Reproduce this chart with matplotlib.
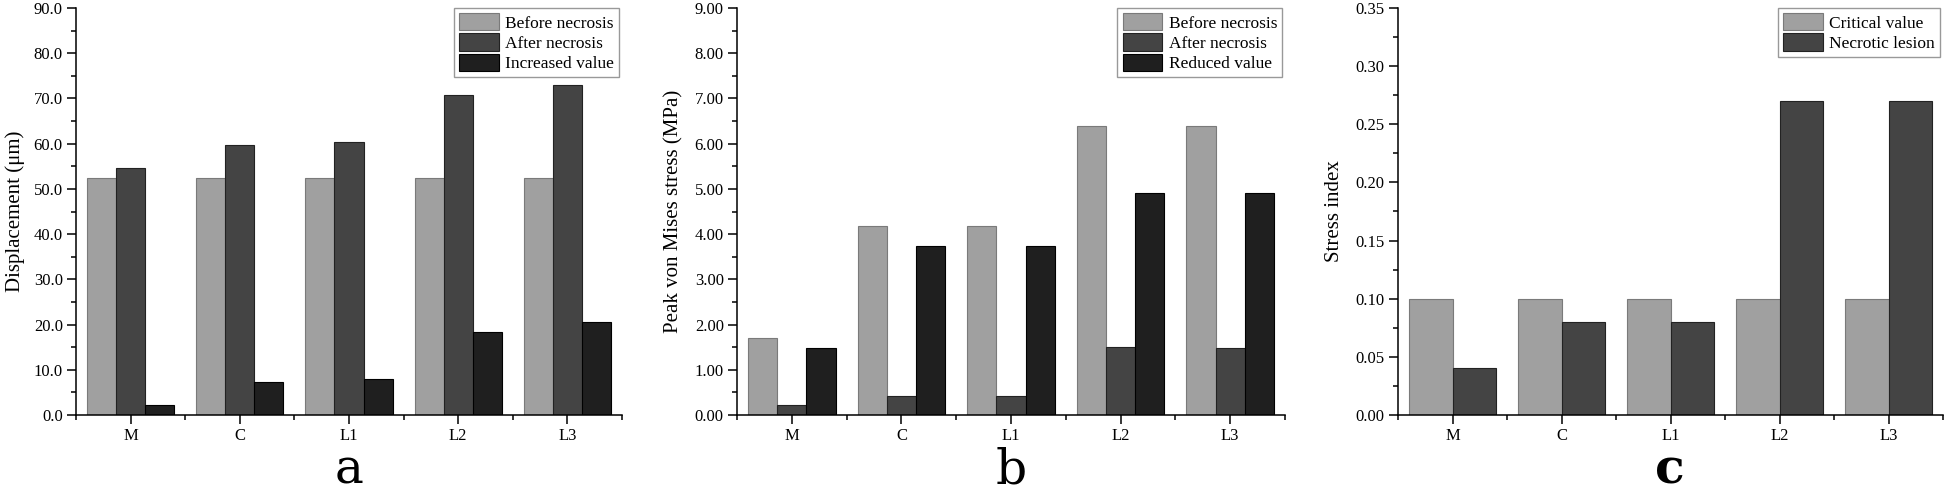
import numpy as np
import matplotlib
matplotlib.use("Agg")
import matplotlib.pyplot as plt
from matplotlib.ticker import MultipleLocator, FixedLocator, FormatStrFormatter

plt.rcParams['font.family'] = ['Liberation Serif', 'DejaVu Serif']

categories = ["M", "C", "L1", "L2", "L3"]

# Panel a: displacement (um)
disp_before = [52.4, 52.4, 52.4, 52.4, 52.4]
disp_after = [54.6, 59.6, 60.4, 70.8, 72.9]
disp_increase = [2.2, 7.2, 8.0, 18.4, 20.5]

# Panel b: peak von Mises stress (MPa)
stress_before = [1.71, 4.17, 4.17, 6.40, 6.40]
stress_after = [0.22, 0.43, 0.43, 1.50, 1.49]
stress_reduced = [1.49, 3.74, 3.74, 4.90, 4.92]

# Panel c: stress index
critical_value = [0.10, 0.10, 0.10, 0.10, 0.10]
necrotic_lesion = [0.04, 0.08, 0.08, 0.27, 0.27]

LIGHT, DARK, BLACK = "#a0a0a0", "#444444", "#1f1f1f"
EDGES = {LIGHT: "#7a7a7a", DARK: "#222222", BLACK: "#000000"}

W, H = 1946, 496
fig = plt.figure(figsize=(W / 100, H / 100), dpi=100)


def make_ax(left_px, right_px):
    top_px, bottom_px = 8, 415
    return fig.add_axes([left_px / W, 1 - bottom_px / H,
                         (right_px - left_px) / W, (bottom_px - top_px) / H])


def style(ax, ymax, major, fmt, ylabel, labelx):
    for s in ("top", "right"):
        ax.spines[s].set_visible(False)
    for s in ("left", "bottom"):
        ax.spines[s].set_linewidth(1.1)
    ax.set_xlim(-0.5, 4.5)
    ax.set_ylim(0, ymax)
    ax.xaxis.set_major_locator(FixedLocator(range(len(categories))))
    ax.set_xticklabels(categories)
    ax.xaxis.set_minor_locator(FixedLocator(np.arange(-0.5, 4.6, 1.0)))
    ax.yaxis.set_major_locator(MultipleLocator(major))
    ax.yaxis.set_minor_locator(MultipleLocator(major / 2))
    ax.yaxis.set_major_formatter(FormatStrFormatter(fmt))
    ax.tick_params(which="major", direction="out", length=6.5, width=1.1,
                   labelsize=12, pad=3)
    ax.tick_params(which="minor", direction="out", length=3.6, width=1.1)
    ax.set_ylabel(ylabel, fontsize=15, va="center")
    ax.yaxis.set_label_coords(labelx, 0.5)


def legend(ax):
    leg = ax.legend(loc="upper right", bbox_to_anchor=(0.995, 1.0),
                    borderaxespad=0, fontsize=12.5, frameon=True, fancybox=False,
                    handlelength=2.3, handleheight=1.15, labelspacing=0.1,
                    handletextpad=0.35, borderpad=0.3)
    leg.get_frame().set_edgecolor("#808080")
    leg.get_frame().set_linewidth(1.0)


x = np.arange(len(categories))

# Panel a
ax1 = make_ax(76, 622)
bw = 0.8 / 3
for off, vals, col, lab in [(-bw, disp_before, LIGHT, "Before necrosis"),
                            (0, disp_after, DARK, "After necrosis"),
                            (bw, disp_increase, BLACK, "Increased value")]:
    ax1.bar(x + off, vals, width=bw, color=col, edgecolor=EDGES[col],
            linewidth=0.8, label=lab)
style(ax1, 90, 10, "%.1f", "Displacement (μm)", -0.111)
legend(ax1)

# Panel b
ax2 = make_ax(737, 1285)
for off, vals, col, lab in [(-bw, stress_before, LIGHT, "Before necrosis"),
                            (0, stress_after, DARK, "After necrosis"),
                            (bw, stress_reduced, BLACK, "Reduced value")]:
    ax2.bar(x + off, vals, width=bw, color=col, edgecolor=EDGES[col],
            linewidth=0.8, label=lab)
style(ax2, 9, 1, "%.2f", "Peak von Mises stress (MPa)", -0.115)
legend(ax2)

# Panel c
ax3 = make_ax(1398, 1943)
bw2 = 0.4
for off, vals, col, lab in [(-bw2 / 2, critical_value, LIGHT, "Critical value"),
                            (bw2 / 2, necrotic_lesion, DARK, "Necrotic lesion")]:
    ax3.bar(x + off, vals, width=bw2, color=col, edgecolor=EDGES[col],
            linewidth=0.8, label=lab)
style(ax3, 0.35, 0.05, "%.2f", "Stress index", -0.117)
legend(ax3)

for xc, letter, wt in [(349, "a", "normal"), (1011, "b", "normal"), (1670, "c", "bold")]:
    fig.text(xc / W, 12 / H, letter, ha="center", va="baseline", fontsize=35,
             family=["DejaVu Serif"], weight=wt)

fig.savefig("out.png", dpi=100)
